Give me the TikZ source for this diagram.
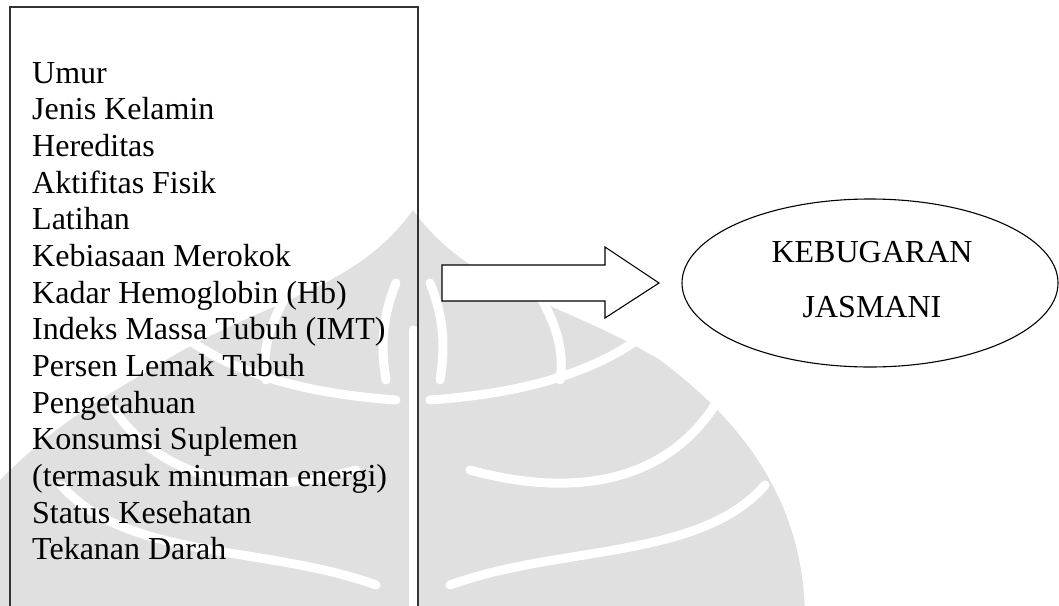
\documentclass[tikz,border=0pt]{standalone}
\usepackage{fontspec}
\setmainfont{Liberation Serif}
\usetikzlibrary{shapes.geometric}
\definecolor{wm}{RGB}{224,224,224}
\begin{document}
\begin{tikzpicture}[x=1pt,y=-1pt,
  frame/.style={line width=1.3pt,draw=black!80},
  item/.style={anchor=base west,inner sep=0pt,font=\fontsize{32}{37}\selectfont},
  big/.style={font=\fontsize{32}{37}\selectfont,inner sep=0pt,anchor=base},
  outline/.style={draw=black,line width=1.1pt,fill=white},
  stripe/.style={draw=white,line width=9pt,line cap=round}]
\useasboundingbox (0,0) rectangle (1059,605);
% watermark (faint leaf)
\fill[wm] (413,210) .. controls (470,290) and (560,300) .. (660,360)
  .. controls (740,420) and (805,500) .. (805,620) -- (0,620) -- (0,480)
  .. controls (60,420) and (100,400) .. (166,360)
  .. controls (266,300) and (356,290) .. (413,210) -- cycle;
\draw[stripe] (413,330) -- (413,620);
\draw[stripe] (430,400) .. controls (500,395) and (590,380) .. (650,330);
\draw[stripe] (470,470) .. controls (560,495) and (660,490) .. (715,405);
\draw[stripe] (450,585) .. controls (560,545) and (700,560) .. (765,485);
\draw[stripe] (396,400) .. controls (326,395) and (236,380) .. (176,330);
\draw[stripe] (356,470) .. controls (266,495) and (166,490) .. (111,405);
\draw[stripe] (376,585) .. controls (266,545) and (126,560) .. (61,485);
\draw[stripe] (430,283) .. controls (445,320) and (445,350) .. (440,380);
\draw[stripe] (535,288) .. controls (555,320) and (565,350) .. (560,380);
\draw[stripe] (396,283) .. controls (381,320) and (381,350) .. (386,380);
\draw[stripe] (291,288) .. controls (271,320) and (261,350) .. (266,380);
% list box
\draw[frame] (10,620) -- (10,7) -- (418,7) -- (418,620);
\foreach \t [count=\i from 0] in {{Umur},{Jenis Kelamin},{Hereditas},{Aktifitas Fisik},{Latihan},{Kebiasaan Merokok},{Kadar Hemoglobin (Hb)},{Indeks Massa Tubuh (IMT)},{Persen Lemak Tubuh},{Pengetahuan},{Konsumsi Suplemen},{(termasuk minuman energi)},{Status Kesehatan},{Tekanan Darah}}
  \node[item] (l\i) at (32,83+36.67*\i) {\t};
% block arrow
\coordinate (as) at (442,283);
\coordinate (at) at (659,283);
\draw[outline] (442,265) -- (605,265) -- (605,247) -- (at) -- (605,318) -- (605,301) -- (442,301) -- cycle;
% ellipse
\node[ellipse,outline,minimum width=376pt,minimum height=168pt,inner sep=0pt] (kj) at (870,283) {};
\node[big] (t1) at (872,262) {KEBUGARAN};
\node[big] (t2) at (872,317) {JASMANI};
\end{tikzpicture}
\end{document}
